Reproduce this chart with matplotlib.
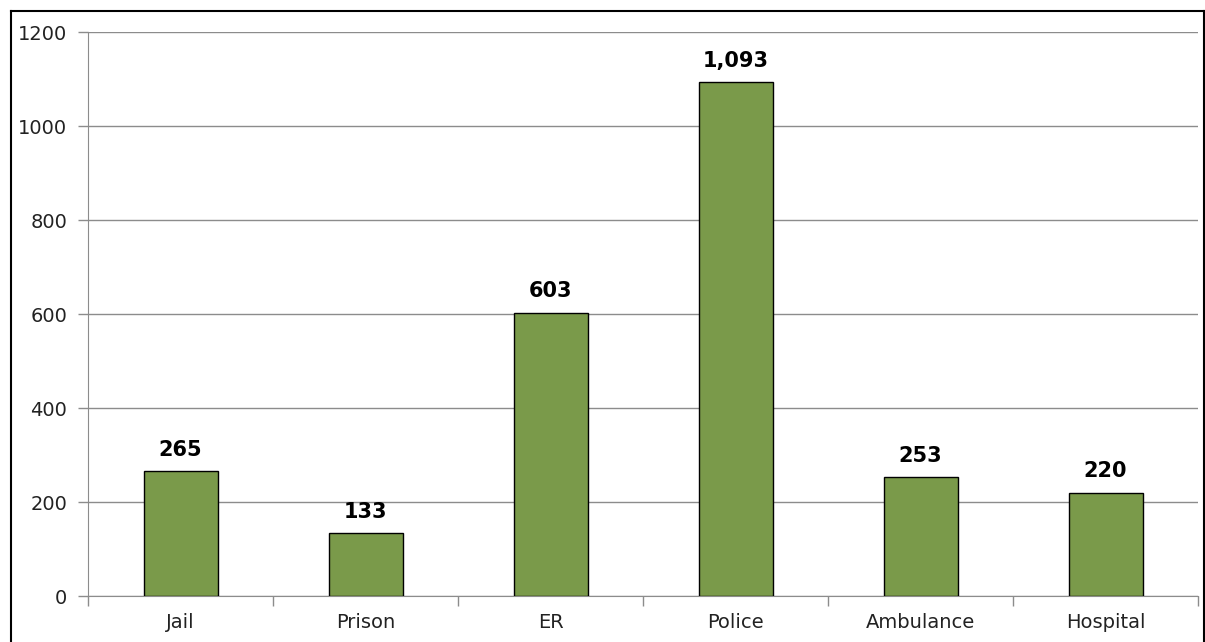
import numpy as np
import matplotlib.pyplot as plt
from matplotlib.lines import Line2D

categories = ['Jail', 'Prison', 'ER', 'Police', 'Ambulance', 'Hospital']
values = [265, 133, 603, 1093, 253, 220]
yticks = [0, 200, 400, 600, 800, 1000, 1200]

plt.rcParams['font.family'] = ['DejaVu Sans']

fig = plt.figure(figsize=(12.05, 6.42), dpi=100)
ax = fig.add_axes([88 / 1205, 46 / 642, 1110 / 1205, 564 / 642])

x = np.arange(len(categories))
bars = ax.bar(x, values, width=0.4, color='#7A9A4A', edgecolor='black', linewidth=1.0, zorder=3)

for b, v in zip(bars, values):
    ax.annotate(f'{v:,}', (b.get_x() + b.get_width() / 2, v), xytext=(0, 8),
                textcoords='offset points', ha='center', va='bottom',
                fontsize=15, fontweight='bold', color='black')

ax.set_xlim(-0.5, len(categories) - 0.5)
ax.set_ylim(0, 1200)
ax.set_yticks(yticks)
ax.set_yticklabels([str(t) for t in yticks])
ax.yaxis.grid(True, color='#8c8c8c', linewidth=1.0, zorder=0)

ax.set_xticks(x)
ax.set_xticklabels(categories)
ax.set_xticks(np.arange(-0.5, len(categories)), minor=True)
ax.tick_params(axis='x', which='major', length=0, pad=12, labelsize=14, colors='#222222')
ax.tick_params(axis='x', which='minor', length=7, color='#8c8c8c', width=1)
ax.tick_params(axis='y', length=7, color='#8c8c8c', width=1, labelsize=14, pad=8,
               labelcolor='#222222')

for s in ['top', 'right']:
    ax.spines[s].set_visible(False)
ax.spines['left'].set_color('#8c8c8c')
ax.spines['bottom'].set_color('#8c8c8c')

# border around chart area
fx0, fy0, fx1 = 10.5 / 1205, 1 - 10.5 / 642, 1203.5 / 1205
fig.add_artist(Line2D([fx0, fx1], [fy0, fy0], color='black', linewidth=1.5))
fig.add_artist(Line2D([fx0, fx0], [0, fy0], color='black', linewidth=1.5))
fig.add_artist(Line2D([fx1, fx1], [0, fy0], color='black', linewidth=1.5))

fig.savefig('out.png', dpi=100)
